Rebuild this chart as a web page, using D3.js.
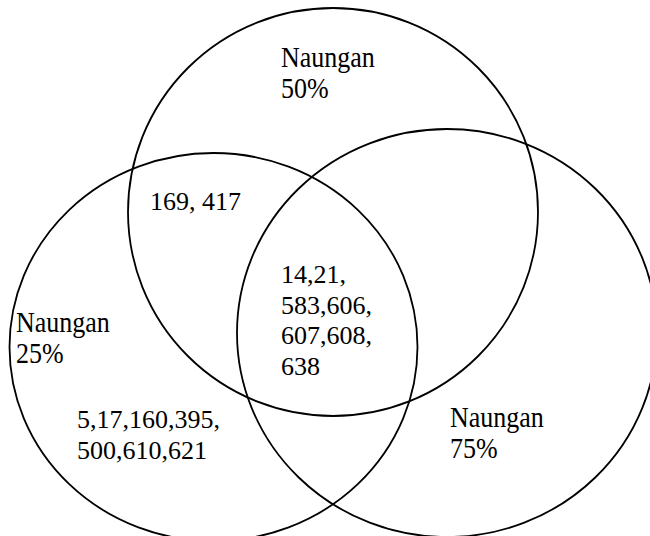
<!DOCTYPE html>
<html>
    <head>
        <meta charset="utf-8">
        <title>Venn Naungan</title>
        <script type="text/javascript" src="https://d3js.org/d3.v7.min.js"></script>
        <style>
            body { margin: 0; background: #fff; }
            text { font-family: 'Liberation Serif', 'Times New Roman', serif; font-size: 26px; fill: #000; }
        </style>
    </head>
    <body>
        <div class="div_d3"></div>

        <script type="text/javascript">
            // sets and what sits in each region
            var setNames = ['Naungan 25%', 'Naungan 50%', 'Naungan 75%'];
            var setLabelLines = [
                [ 'Naungan', '25%' ],
                [ 'Naungan', '50%' ],
                [ 'Naungan', '75%' ]
            ];
            var onlyLow = [ '5,17,160,395,', '500,610,621' ];
            var lowAndMid = [ '169, 417' ];
            var allThree = [ '14,21,', '583,606,', '607,608,', '638' ];

            let width = 650;
            let height = 536;

            // layout in chart units (0..650 x 0..536)
            let x = d3.scaleLinear().domain([0, 650]).range([0, width]);
            let y = d3.scaleLinear().domain([0, 536]).range([0, height]);

            // the ovals are drawn slightly out of round, as in the source drawing
            let ovalLayout = [
                { cx: 213.5, cy: 347, rx: 204, ry: 194 },
                { cx: 333, cy: 212, rx: 205, ry: 204 },
                { cx: 447, cy: 333, rx: 210, ry: 204 }
            ];

            let svg = d3.select('.div_d3')
                .append('svg')
                    .attr('width', width)
                    .attr('height', height);

            svg.selectAll('ellipse')
                .data(setNames)
                .enter()
                .append('ellipse')
                    .attr('cx', (d, i) => x(ovalLayout[i].cx))
                    .attr('cy', (d, i) => y(ovalLayout[i].cy))
                    .attr('rx', (d, i) => x(ovalLayout[i].rx))
                    .attr('ry', (d, i) => y(ovalLayout[i].ry))
                    .attr('fill', 'none')
                    .attr('stroke', '#000')
                    .attr('stroke-width', 1.8);

            let lineGap = 30.5;
            let blocks = [
                { lines: setLabelLines[0], x: 16, y: 332, sy: 1.12 },
                { lines: setLabelLines[1], x: 281, y: 67, sy: 1.12 },
                { lines: setLabelLines[2], x: 450, y: 427, sy: 1.12 },
                { lines: onlyLow, x: 77, y: 428, sy: 1 },
                { lines: lowAndMid, x: 150, y: 210, sy: 1 },
                { lines: allThree, x: 281, y: 283, sy: 1 }
            ];

            let groups = svg.selectAll('g.label')
                .data(blocks)
                .enter()
                .append('g')
                    .attr('class', 'label');

            groups.selectAll('text')
                .data(d => d.lines.map((t, i) => ({ t: t, x: d.x, y: d.y + i * lineGap, sy: d.sy })))
                .enter()
                .append('text')
                    .attr('transform', d => `translate(${x(d.x)},${y(d.y)}) scale(1,${d.sy})`)
                    .text(d => d.t);
        </script>
    </body>
</html>
